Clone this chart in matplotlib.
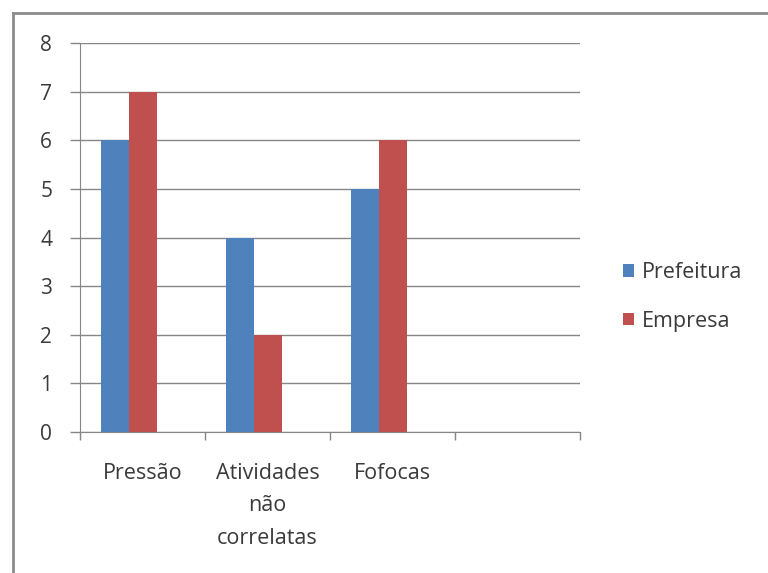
import numpy as np
import matplotlib.pyplot as plt
from matplotlib.lines import Line2D

# --
# data

categorias = ['Pressão', 'Atividades\nnão\ncorrelatas', 'Fofocas', '']
prefeitura = [6, 4, 5, np.nan]
empresa    = [7, 2, 6, np.nan]

azul     = '#4f81bd'
vermelho = '#c0504d'
cinza    = '#868686'
texto    = '#3a3a3a'

plt.rcParams['font.family'] = ['Open Sans', 'DejaVu Sans']

# --

def do_plot():
  fig = plt.figure(figsize=(7.68, 5.73), dpi=100)
  ax = fig.add_axes([80/768, 1 - 432/573, 500/768, 389/573])

  x = np.arange(len(categorias))
  w = 0.224
  # group laid out as for three slots, third one empty
  ax.bar(x - w, prefeitura, w, color=azul, label='Prefeitura', zorder=3)
  ax.bar(x, empresa, w, color=vermelho, label='Empresa', zorder=3)

  ax.set_xlim(-0.5, 3.5)
  ax.set_ylim(0, 8)
  ax.set_yticks(range(0, 9))
  ax.grid(axis='y', color=cinza, lw=1, zorder=0)

  # category labels between boundary ticks
  ax.set_xticks(np.arange(-0.5, 4, 1))
  ax.set_xticklabels([])
  ax.set_xticks(x, minor=True)
  ax.set_xticklabels(categorias, minor=True, fontsize=15.5, color=texto,
                     linespacing=1.72, va='top')
  ax.tick_params(axis='x', which='minor', length=0, pad=22)
  ax.tick_params(axis='x', which='major', length=6, color=cinza, width=1)
  ax.tick_params(axis='y', length=7, color=cinza, width=1, pad=13,
                 labelsize=15, labelcolor=texto)

  for s in ['top', 'right']:
    ax.spines[s].set_visible(False)
  for s in ['left', 'bottom']:
    ax.spines[s].set_color(cinza)

  fig.legend(loc='center left', bbox_to_anchor=(604/768, 1 - 297/573),
             frameon=False, fontsize=15.5, labelcolor=texto,
             handlelength=0.5, handleheight=0.5, handletextpad=0.35,
             labelspacing=1.3)

  # outer chart frame
  fig.add_artist(Line2D([13/768, 13/768], [0, 1 - 13/573],
                        transform=fig.transFigure, color='#8c8c8c', lw=2))
  fig.add_artist(Line2D([13/768, 1], [1 - 13/573, 1 - 13/573],
                        transform=fig.transFigure, color='#8c8c8c', lw=2))

  fig.savefig('out.png', dpi=100)

do_plot()
